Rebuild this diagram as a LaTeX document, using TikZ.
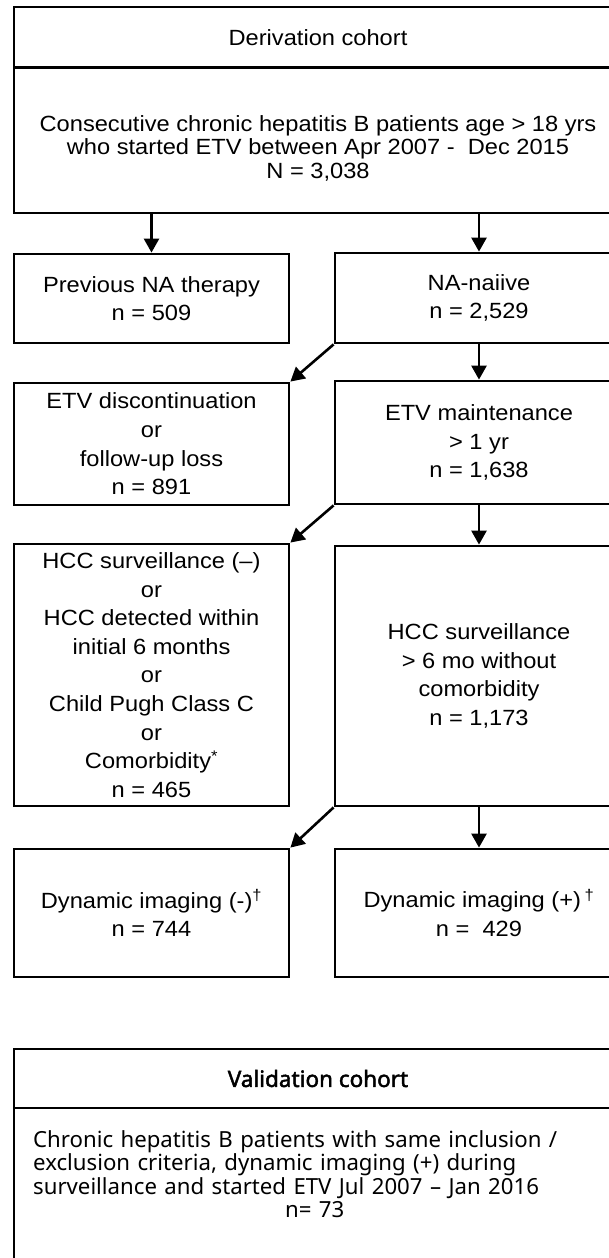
\documentclass[tikz,border=0pt]{standalone}
\usepackage{fontspec}
\setmainfont[FakeStretch=1.075]{Liberation Sans}
\newfontfamily\valfont{Noto Sans}
\newfontfamily\valboldfont[FakeBold=2]{Noto Sans}
\usetikzlibrary{arrows.meta}
\newcommand\fsz{\fontsize{22}{28.6}\selectfont}
\newcommand\fszt{\fontsize{22}{23.3}\selectfont}
\begin{document}
\begin{tikzpicture}[x=1pt,y=-1pt,
  box/.style={draw, line width=2.8pt, rectangle, inner sep=0pt, align=center, font=\fsz},
  lbox/.style={box, minimum width=275pt},
  rbox/.style={box, minimum width=288pt},
  wbox/.style={box, minimum width=608pt},
  arr/.style={line width=2.6pt, -{Triangle[length=14pt,width=15pt]}},
  txt/.style={inner sep=0pt, align=center}
]
\useasboundingbox (0,0) rectangle (609,1258);
\clip (0,0) rectangle (609,1258);
\fill[white] (0,0) rectangle (609,1258);

% Derivation cohort
\node[wbox, minimum height=60.5pt] (dtitle) at (318,37.25) {Derivation cohort};
\node[wbox, minimum height=145.5pt] (dbody) at (318,140.25) {};
\node[txt, font=\fszt] (dtext) at (318,148.3)
  {Consecutive chronic hepatitis B patients age > 18 yrs\\who started ETV between Apr 2007 -\ \ Dec 2015\\N = 3,038};

\node[lbox, minimum height=89pt] (prev) at (151.5,298.5) {Previous NA therapy\\n = 509};
\node[rbox, minimum height=90pt] (naive) at (479,298) {NA-naiive\\n = 2,529};

\node[lbox, minimum height=122pt] (disc) at (151.5,444) {ETV discontinuation\\or\\follow-up loss\\n = 891};
\node[rbox, minimum height=123pt] (maint) at (479,442.5) {ETV maintenance\\> 1 yr\\n = 1,638};

\node[lbox, minimum height=262pt] (hccl) at (151.5,675)
  {HCC surveillance (–)\\or\\HCC detected within\\initial 6 months\\or\\Child Pugh Class C\\or\\Comorbidity\textsuperscript{*}\\n = 465};
\node[rbox, minimum height=260pt] (hccr) at (479,676)
  {HCC surveillance\\> 6 mo without\\comorbidity\\n = 1,173};

\node[lbox, minimum height=128pt] (dynl) at (151.5,913) {Dynamic imaging (-)\textsuperscript{†}\\n = 744};
\node[rbox, minimum height=128pt] (dynr) at (479,913) {Dynamic imaging (+)\,\textsuperscript{†}\\n =\ \ 429};

% connectors
\draw[arr] (dbody.south -| prev.north) -- (prev.north);
\draw[arr] (dbody.south -| naive.north) -- (naive.north);
\draw[arr] (naive.south) -- (maint.north);
\draw[arr] (naive.south west) -- (disc.north east);
\draw[arr] (maint.south) -- (hccr.north);
\draw[arr] (maint.south west) -- (hccl.north east);
\draw[arr] (hccr.south) -- (dynr.north);
\draw[arr] (hccr.south west) -- (dynl.north east);

% Validation cohort
\node[wbox, minimum height=59pt, font=\valboldfont\fontsize{22.5}{26}\selectfont] (vtitle) at (318,1078.5) {Validation cohort};
\node[wbox, minimum height=200pt] (vbody) at (318,1208) {};
\node[inner sep=0pt, anchor=west, text width=563pt, align=left,
      font=\valfont\fontsize{22.2}{23.4}\selectfont] (vtext) at (33,1174)
  {Chronic hepatitis B patients with same inclusion /\\exclusion criteria, dynamic imaging (+) during\\surveillance and started ETV Jul 2007 – Jan 2016\\\makebox[\linewidth]{n= 73}};
\end{tikzpicture}
\end{document}
